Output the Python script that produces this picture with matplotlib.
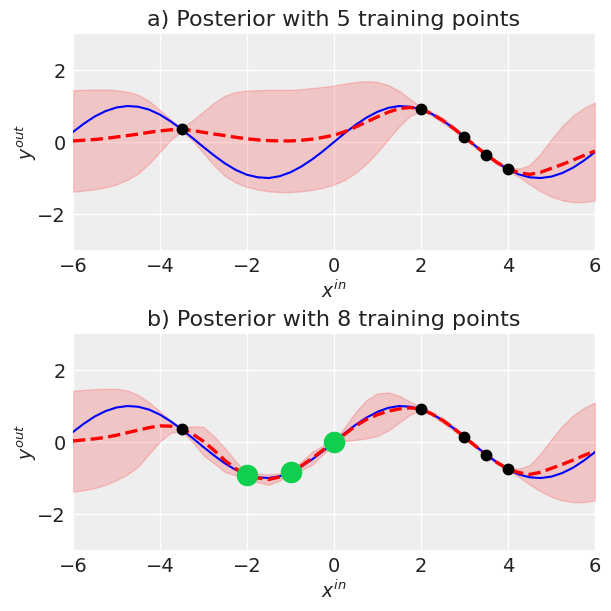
import matplotlib.pyplot as plt
import numpy as np

# values at quarter-unit steps, x from -6 to 6
x_grid = np.arange(-6, 6.01, 0.25)

# true function (blue)
f_true = [0.28, 0.51, 0.71, 0.86, 0.96, 1.00, 0.98, 0.90, 0.76, 0.57, 0.35, 0.11, -0.14,
          -0.38, -0.60, -0.78, -0.91, -0.98, -1.00, -0.95, -0.84, -0.68, -0.48, -0.25, 0.00,
          0.25, 0.48, 0.68, 0.84, 0.95, 1.00, 0.98, 0.91, 0.78, 0.60, 0.38, 0.14,
          -0.11, -0.35, -0.57, -0.76, -0.90, -0.98, -1.00, -0.96, -0.86, -0.71, -0.51, -0.28]

# a) 5 training points
mu_a = [0.03, 0.05, 0.07, 0.10, 0.14, 0.18, 0.22, 0.27, 0.31, 0.34, 0.35, 0.32, 0.27,
        0.22, 0.18, 0.13, 0.09, 0.06, 0.04, 0.03, 0.03, 0.05, 0.08, 0.13, 0.19,
        0.29, 0.42, 0.56, 0.70, 0.83, 0.93, 0.96, 0.92, 0.78, 0.60, 0.38, 0.14,
        -0.11, -0.35, -0.57, -0.75, -0.85, -0.90, -0.84, -0.73, -0.62, -0.50, -0.37, -0.25]
hi_a = [1.44, 1.45, 1.46, 1.46, 1.44, 1.40, 1.31, 1.14, 0.89, 0.62, 0.40, 0.60, 0.85,
        1.10, 1.29, 1.39, 1.43, 1.44, 1.45, 1.45, 1.45, 1.47, 1.50, 1.53, 1.57,
        1.62, 1.67, 1.69, 1.67, 1.58, 1.42, 1.20, 0.97, 0.83, 0.67, 0.44, 0.19,
        -0.06, -0.30, -0.52, -0.70, -0.74, -0.64, -0.32, 0.08, 0.45, 0.74, 0.95, 1.10]
lo_a = [-1.38, -1.35, -1.31, -1.26, -1.18, -1.05, -0.87, -0.60, -0.27, 0.06, 0.30, 0.04, -0.31,
        -0.66, -0.95, -1.13, -1.25, -1.32, -1.37, -1.39, -1.39, -1.37, -1.33, -1.27, -1.18,
        -1.05, -0.85, -0.60, -0.28, 0.08, 0.44, 0.72, 0.87, 0.73, 0.53, 0.32, 0.09,
        -0.16, -0.40, -0.62, -0.80, -0.97, -1.18, -1.37, -1.52, -1.62, -1.67, -1.67, -1.62]
x_train_a = [-3.5, 2, 3, 3.5, 4]
y_train_a = [0.35, 0.91, 0.14, -0.35, -0.76]

# b) 8 training points
mu_b = [0.03, 0.06, 0.09, 0.13, 0.19, 0.26, 0.33, 0.40, 0.45, 0.44, 0.35, 0.22, 0.02,
        -0.24, -0.52, -0.75, -0.91, -1.00, -1.04, -0.97, -0.84, -0.66, -0.45, -0.22, 0.00,
        0.22, 0.45, 0.63, 0.76, 0.86, 0.92, 0.95, 0.92, 0.78, 0.60, 0.38, 0.14,
        -0.11, -0.35, -0.57, -0.75, -0.85, -0.90, -0.84, -0.73, -0.62, -0.50, -0.37, -0.25]
hi_b = [1.42, 1.45, 1.47, 1.48, 1.48, 1.43, 1.31, 1.10, 0.85, 0.60, 0.40, 0.44, 0.42,
        0.15, -0.18, -0.55, -0.86, -0.88, -0.90, -0.87, -0.79, -0.54, -0.27, -0.10, 0.05,
        0.42, 0.84, 1.17, 1.35, 1.38, 1.28, 1.12, 0.97, 0.83, 0.67, 0.44, 0.19,
        -0.06, -0.30, -0.52, -0.70, -0.74, -0.64, -0.32, 0.08, 0.45, 0.74, 0.95, 1.10]
lo_b = [-1.38, -1.34, -1.28, -1.19, -1.06, -0.90, -0.68, -0.33, 0.02, 0.26, 0.30, 0.00, -0.37,
        -0.60, -0.84, -0.93, -0.96, -1.12, -1.19, -1.07, -0.89, -0.78, -0.63, -0.34, -0.05,
        0.03, 0.06, 0.10, 0.17, 0.32, 0.54, 0.76, 0.87, 0.73, 0.53, 0.32, 0.09,
        -0.16, -0.40, -0.62, -0.80, -0.97, -1.18, -1.37, -1.52, -1.62, -1.67, -1.67, -1.62]
x_new = [-2, -1, 0]
y_new = [-0.91, -0.84, 0.00]

titles = ['a) Posterior with 5 training points', 'b) Posterior with 8 training points']

plt.rcParams['font.family'] = 'DejaVu Sans'

fig = plt.figure(figsize=(6.11, 6.11), dpi=100)
ax1 = fig.add_axes([0.1195, 0.5908, 0.8543, 0.3535])
ax2 = fig.add_axes([0.1195, 0.0998, 0.8543, 0.3535])

panels = [(ax1, mu_a, hi_a, lo_a), (ax2, mu_b, hi_b, lo_b)]
for i, (ax, mu, hi, lo) in enumerate(panels):
    ax.set_facecolor('#eeeeee')
    for s in ax.spines.values():
        s.set_visible(False)
    ax.grid(True, color='white', linewidth=1.0)
    ax.set_axisbelow(True)
    ax.tick_params(length=0, labelsize=14, colors='#222222', pad=5)

    ax.fill_between(x_grid, lo, hi, color='red', alpha=0.17, linewidth=1)
    ax.plot(x_grid, f_true, color='blue', linewidth=1.5)
    ax.plot(x_grid, mu, color='red', linestyle='--', linewidth=2.4)
    ax.plot(x_train_a, y_train_a, 'o', color='black', markersize=7.5)
    if i == 1:
        ax.plot(x_new, y_new, 'o', color='#11cf4e', markersize=14.5)

    ax.set_xlim(-6, 6)
    ax.set_ylim(-3, 3)
    ax.set_xticks([-6, -4, -2, 0, 2, 4, 6])
    ax.set_yticks([-2, 0, 2])
    ax.set_title(titles[i], fontsize=16, color='#222222')
    ax.set_xlabel('$x^{in}$', fontsize=13.5, color='#222222', labelpad=3)
    ax.set_ylabel('$y^{out}$', fontsize=13.5, color='#222222', labelpad=-1)

fig.savefig('out.png', dpi=100)
